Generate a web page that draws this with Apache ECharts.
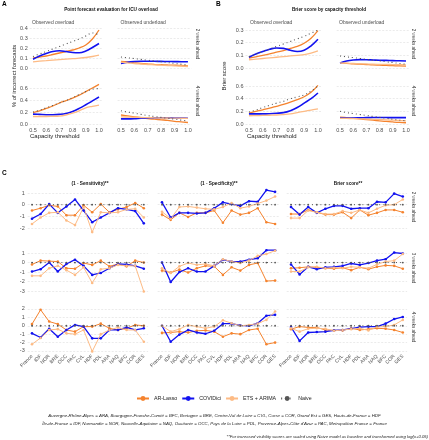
<!DOCTYPE html>
<html><head><meta charset="utf-8">
<script src="https://cdn.jsdelivr.net/npm/echarts@6/dist/echarts.min.js"></script>
<style>html,body{margin:0;padding:0;background:#fff}#c{width:429px;height:440px}</style>
</head><body><div id="c"></div>
<script>
// ---------- DATA ----------
const models = ['AR-Lasso', 'COVIDici', 'ETS + ARIMA', 'Naive'];
const thresholds = [0.5, 0.55, 0.6, 0.65, 0.7, 0.75, 0.8, 0.85, 0.9, 0.95, 1.0];
const thresholdTicks = [0.5, 0.6, 0.7, 0.8, 0.9, 1.0];

// Panel A: % of incorrect forecasts
const aOver2wAR   = [0.10, 0.11, 0.12, 0.135, 0.15, 0.165, 0.18, 0.20, 0.23, 0.29, 0.38];
const aOver2wCOV  = [0.088, 0.12, 0.145, 0.165, 0.172, 0.165, 0.155, 0.152, 0.17, 0.205, 0.245];
const aOver2wETS  = [0.062, 0.068, 0.073, 0.078, 0.083, 0.088, 0.093, 0.098, 0.105, 0.115, 0.128];
const aOver2wNAI  = [0.115, 0.14, 0.165, 0.19, 0.215, 0.24, 0.265, 0.29, 0.32, 0.35, 0.33];
const aUnder2wAR  = [0.065, 0.06, 0.052, 0.045, 0.04, 0.036, 0.033, 0.03, 0.028, 0.025, 0.02];
const aUnder2wCOV = [0.045, 0.058, 0.065, 0.068, 0.068, 0.067, 0.066, 0.065, 0.064, 0.063, 0.062];
const aUnder2wETS = [0.058, 0.052, 0.045, 0.04, 0.035, 0.032, 0.028, 0.025, 0.022, 0.02, 0.015];
const aUnder2wNAI = [0.11, 0.102, 0.094, 0.086, 0.078, 0.07, 0.062, 0.054, 0.046, 0.038, 0.03];
const aOver4wAR   = [0.19, 0.22, 0.26, 0.30, 0.35, 0.39, 0.43, 0.48, 0.54, 0.60, 0.66];
const aOver4wCOV  = [0.165, 0.16, 0.155, 0.155, 0.16, 0.175, 0.21, 0.26, 0.32, 0.385, 0.45];
const aOver4wETS  = [0.125, 0.125, 0.125, 0.128, 0.132, 0.15, 0.18, 0.22, 0.27, 0.295, 0.315];
const aOver4wNAI  = [0.20, 0.23, 0.27, 0.31, 0.35, 0.39, 0.44, 0.49, 0.54, 0.58, 0.59];
const aUnder4wAR  = [0.15, 0.135, 0.12, 0.105, 0.09, 0.08, 0.07, 0.06, 0.045, 0.035, 0.025];
const aUnder4wCOV = [0.085, 0.085, 0.088, 0.095, 0.10, 0.103, 0.105, 0.103, 0.10, 0.098, 0.095];
const aUnder4wETS = [0.12, 0.115, 0.11, 0.108, 0.105, 0.103, 0.10, 0.10, 0.098, 0.096, 0.095];
const aUnder4wNAI = [0.22, 0.20, 0.18, 0.16, 0.14, 0.125, 0.11, 0.095, 0.08, 0.065, 0.05];

// Panel B: Brier score
const bOver2wAR   = [0.078, 0.088, 0.10, 0.112, 0.125, 0.138, 0.155, 0.17, 0.195, 0.235, 0.295];
const bOver2wCOV  = [0.085, 0.11, 0.13, 0.148, 0.158, 0.155, 0.14, 0.13, 0.14, 0.175, 0.227];
const bOver2wETS  = [0.065, 0.07, 0.075, 0.08, 0.085, 0.09, 0.095, 0.10, 0.105, 0.118, 0.135];
const bOver2wNAI  = [0.09, 0.11, 0.13, 0.15, 0.17, 0.19, 0.21, 0.23, 0.25, 0.275, 0.30];
const bUnder2wAR  = [0.04, 0.037, 0.033, 0.03, 0.027, 0.024, 0.022, 0.02, 0.018, 0.016, 0.015];
const bUnder2wCOV = [0.04, 0.055, 0.063, 0.066, 0.065, 0.063, 0.061, 0.06, 0.058, 0.057, 0.055];
const bUnder2wETS = [0.04, 0.038, 0.036, 0.034, 0.032, 0.03, 0.029, 0.028, 0.027, 0.026, 0.025];
const bUnder2wNAI = [0.095, 0.088, 0.082, 0.075, 0.069, 0.062, 0.056, 0.049, 0.043, 0.036, 0.03];
const bOver4wAR   = [0.17, 0.20, 0.225, 0.25, 0.28, 0.31, 0.345, 0.385, 0.43, 0.50, 0.61];
const bOver4wCOV  = [0.16, 0.16, 0.16, 0.163, 0.17, 0.18, 0.21, 0.26, 0.33, 0.40, 0.49];
const bOver4wETS  = [0.13, 0.132, 0.135, 0.138, 0.142, 0.15, 0.16, 0.18, 0.20, 0.22, 0.24];
const bOver4wNAI  = [0.19, 0.22, 0.26, 0.295, 0.33, 0.36, 0.40, 0.43, 0.46, 0.52, 0.60];
const bUnder4wAR  = [0.11, 0.10, 0.09, 0.08, 0.07, 0.06, 0.05, 0.04, 0.032, 0.025, 0.02];
const bUnder4wCOV = [0.095, 0.095, 0.095, 0.097, 0.10, 0.102, 0.103, 0.102, 0.10, 0.10, 0.10];
const bUnder4wETS = [0.09, 0.088, 0.085, 0.082, 0.078, 0.074, 0.07, 0.065, 0.06, 0.055, 0.05];
const bUnder4wNAI = [0.20, 0.18, 0.165, 0.15, 0.135, 0.12, 0.105, 0.09, 0.075, 0.062, 0.05];

// Panel C: scaled scores by region
const regions = ['France', 'IDF', 'NOR', 'BRE', 'OCC', 'PAC', 'CVL', 'HDF', 'PDL', 'ARA', 'NAQ', 'BFC', 'COR', 'GES'];
const naiveScaled = [0, 0, 0, 0, 0, 0, 0, 0, 0, 0, 0, 0, 0, 0];
const sens2AR  = [-0.5, -0.3, -0.05, -0.15, -0.9, -0.9, -0.05, -0.65, 0.05, -0.65, -0.4, -0.2, 0.15, -0.3];
const sens2COV = [-1.2, -0.8, 0.05, -0.7, -0.15, 0.45, -0.5, -1.5, -1.1, -0.7, -0.3, -0.4, -0.55, -1.6];
const sens2ETS = [-1.65, -1.1, -0.7, -0.65, -1.35, -1.75, -0.2, -2.35, -0.65, -0.7, -0.65, -0.4, -0.35, -1.1];
const spec2AR  = [-0.85, -1.3, -0.7, -1.05, -0.7, -0.7, -0.5, -1.55, -0.5, -0.85, -0.7, -0.3, -1.5, -1.65];
const spec2COV = [0.2, -1.1, -0.7, -0.7, -0.75, -0.7, -0.3, 0.2, 0.05, -0.1, 0.3, 0.25, 1.25, 1.1];
const spec2ETS = [-0.6, -1.2, -0.2, -0.15, -0.25, -0.35, -0.4, -0.2, 0.15, -0.3, -0.15, 0.1, 0.35, 0.7];
const brier2AR  = [-0.8, -0.8, -0.45, -0.65, -0.85, -0.85, -0.65, -1.15, -0.45, -0.9, -0.7, -0.45, -0.45, -0.65];
const brier2COV = [-0.2, -0.85, -0.2, -0.7, -0.35, -0.1, -0.1, -0.35, -0.3, -0.3, 0.25, 0.2, 0.95, 0.7];
const brier2ETS = [-1.15, -1.15, -0.5, -0.65, -0.8, -0.8, -0.55, -0.7, -0.45, -0.7, -0.35, -0.05, 0, 0.45];
const sens3AR  = [-0.2, 0.2, 0.15, 0.1, -0.6, -0.65, -0.05, -0.25, 0.2, -0.4, -0.15, -0.4, 0.2, 0];
const sens3COV = [-0.95, -0.7, 0, -0.95, -0.15, 0.3, -0.35, -1.3, -1.1, -0.6, -0.15, -0.2, -0.35, -0.65];
const sens3ETS = [-1.4, -1.4, -0.6, -0.35, -0.8, -1.3, -0.5, -2.15, -0.7, -0.6, -0.25, -0.35, -0.35, -3.05];
const spec3AR  = [-0.85, -1.05, -0.75, -1.05, -0.6, -0.35, -0.4, -1.3, -0.5, -0.85, -0.25, -0.05, -1.95, -1.9];
const spec3COV = [0, -2.05, -1.0, -0.6, -0.95, -0.95, -0.35, 0.3, 0.1, 0.1, 0.3, 0.45, 1.3, 1.3];
const spec3ETS = [-0.6, -1.1, -0.4, -0.05, -0.25, -0.15, -0.35, 0.35, 0.1, -0.05, 0.2, 0.7, 0.9, 1.25];
const brier3AR  = [-0.6, -0.55, -0.45, -0.5, -0.6, -0.65, -0.55, -0.8, -0.5, -0.7, -0.45, -0.3, -0.35, -0.65];
const brier3COV = [-0.2, -1.25, -0.45, -0.7, -0.5, -0.45, -0.35, -0.1, -0.25, -0.05, 0.2, 0.35, 1.05, 0.95];
const brier3ETS = [-0.95, -0.95, -0.5, -0.45, -0.6, -0.55, -0.6, -0.45, -0.5, -0.6, -0.2, 0.1, 0.2, 0.9];
const sens4AR  = [0.2, 1.9, 0.5, 0.2, -0.5, -0.7, -0.1, -0.1, 0.25, -0.3, -0.5, -0.3, 0.1, 0];
const sens4COV = [-0.9, -1.4, -0.35, -1.3, -0.5, 0.1, -0.1, -1.5, -1.5, -0.5, -0.5, -0.2, -0.5, -0.3];
const sens4ETS = [-2.2, -1.45, -0.5, -0.4, -0.9, -1.0, -0.5, -3.05, -1.0, -0.5, -0.2, -0.5, -0.5, -1.9];
const spec4AR  = [-0.85, -0.8, -0.7, -0.8, -0.6, -0.55, -0.7, -1.3, -0.9, -1.0, -0.5, -0.35, -2.2, -2.0];
const spec4COV = [0, -1.9, -1.05, -0.5, -0.8, -0.95, -0.6, 0.25, 0.25, 0.05, 0, 0.3, 1.2, 1.3];
const spec4ETS = [0, -0.7, -0.4, 0.1, -0.1, -0.3, -0.1, 0.65, 0.3, 0, 0.1, 0.25, 0.7, 1.7];
const brier4AR  = [-0.4, -0.1, -0.2, -0.2, -0.5, -0.55, -0.55, -0.3, -0.5, -0.4, -0.3, -0.35, -0.5, -0.8];
const brier4COV = [-0.15, -1.8, -0.8, -0.75, -0.7, -0.55, -0.5, -0.35, -0.15, -0.1, -0.1, 0.25, 0.8, 1.05];
const brier4ETS = [-0.3, -0.7, -0.35, -0.3, -0.35, -0.6, -0.5, -0.4, -0.3, -0.55, -0.15, -0.1, 0.1, 0.7];

const cRowTicks = [[-2, -1, 0, 1], [-3, -2, -1, 0, 1], [-3, -2, -1, 0, 1, 2]];

// ---------- STYLE / LAYOUT ----------
const FF = '"Liberation Sans", Arial, Helvetica, sans-serif';
const COL = {'AR-Lasso': '#F5832E', 'COVIDici': '#1212F0', 'ETS + ARIMA': '#FDBB85', 'Naive': '#555555'};
const gridLine = {show: true, lineStyle: {color: '#dedede', width: 0.6, type: [2, 1.5]}};
const tickText = {fontSize: 5.5, color: '#4d4d4d', fontFamily: FF};

const grids = [], xAxes = [], yAxes = [], series = [];
function addGrid(left, top, width, height) {
  grids.push({left, top, width, height, containLabel: false});
  return grids.length - 1;
}

// Panel C
const cLeft = [27.7, 157.65, 286.7], cWidth = [120.4, 121.8, 120.4];
const cTop = [188, 248.1, 307.7], cHeight = [46.2, 45.5, 45.8];
const cMin = [-2.53, -3.27, -3.3], cMax = [1.43, 1.52, 2.15];
const cData = [
  [[sens2AR, sens2COV, sens2ETS], [spec2AR, spec2COV, spec2ETS], [brier2AR, brier2COV, brier2ETS]],
  [[sens3AR, sens3COV, sens3ETS], [spec3AR, spec3COV, spec3ETS], [brier3AR, brier3COV, brier3ETS]],
  [[sens4AR, sens4COV, sens4ETS], [spec4AR, spec4COV, spec4ETS], [brier4AR, brier4COV, brier4ETS]]
];
for (let r = 0; r < 3; r++) {
  for (let c = 0; c < 3; c++) {
    const gi = addGrid(cLeft[c], cTop[r], cWidth[c], cHeight[r]);
    xAxes.push({type: 'category', gridIndex: gi, data: regions, boundaryGap: true,
      axisLine: {show: false}, axisTick: {show: false}, splitLine: {show: false},
      axisLabel: Object.assign({show: r === 2, rotate: 45, interval: 0, margin: 2}, tickText, {fontSize: 5})});
    yAxes.push({type: 'value', gridIndex: gi, min: cMin[r], max: cMax[r],
      axisLine: {show: false}, axisTick: {show: false, customValues: cRowTicks[r]}, splitLine: gridLine,
      axisLabel: Object.assign({show: c === 0, customValues: cRowTicks[r], margin: 3}, tickText)});
    const arrs = cData[r][c].concat([naiveScaled]);
    arrs.forEach((arr, k) => {
      const name = models[k];
      const naive = name === 'Naive';
      series.push({type: 'line', name, xAxisIndex: gi, yAxisIndex: gi, data: arr,
        symbol: 'circle', symbolSize: naive ? 1.8 : 2.6, showSymbol: true,
        itemStyle: {color: COL[name]},
        lineStyle: {color: COL[name], width: name === 'COVIDici' ? 1.3 : 1, type: naive ? [1, 3.2] : 'solid'},
        clip: false, silent: true, animation: false});
    });
  }
}

// Panels A and B
function abPanel(left, width, top, height, ymin, ymax, yticks, showX, showY, arrs) {
  const gi = addGrid(left, top, width, height);
  xAxes.push({type: 'value', gridIndex: gi, min: 0.475, max: 1.025,
    axisLine: {show: false}, axisTick: {show: false, customValues: thresholdTicks}, splitLine: {show: false},
    axisLabel: Object.assign({show: showX, customValues: thresholdTicks, formatter: v => v.toFixed(1), margin: 2}, tickText)});
  yAxes.push({type: 'value', gridIndex: gi, min: ymin, max: ymax,
    axisLine: {show: false}, axisTick: {show: false, customValues: yticks}, splitLine: gridLine,
    axisLabel: Object.assign({show: showY, customValues: yticks, formatter: v => v.toFixed(1), margin: 2}, tickText)});
  arrs.forEach((arr, k) => {
    const name = models[k];
    const naive = name === 'Naive';
    series.push({type: 'line', name, xAxisIndex: gi, yAxisIndex: gi,
      data: thresholds.map((t, i) => [t, arr[i]]),
      smooth: 0.4, showSymbol: false, symbol: 'none',
      lineStyle: {color: COL[name], width: naive ? 1.1 : (name === 'COVIDici' ? 1.6 : 1.3), type: naive ? [1, 3] : 'solid'},
      clip: false, silent: true, animation: false});
  });
}
const t1 = [0, 0.1, 0.2, 0.3, 0.4], t2 = [0, 0.2, 0.4, 0.6], t3 = [0, 0.1, 0.2, 0.3];
abPanel(29.7, 72.6, 26, 44, -0.02, 0.42, t1, false, true, [aOver2wAR, aOver2wCOV, aOver2wETS, aOver2wNAI]);
abPanel(117.6, 73.7, 26, 44, -0.02, 0.42, t1, false, false, [aUnder2wAR, aUnder2wCOV, aUnder2wETS, aUnder2wNAI]);
abPanel(29.7, 72.6, 83.2, 42.6, -0.03, 0.68, t2, true, true, [aOver4wAR, aOver4wCOV, aOver4wETS, aOver4wNAI]);
abPanel(117.6, 73.7, 83.2, 42.6, -0.03, 0.68, t2, true, false, [aUnder4wAR, aUnder4wCOV, aUnder4wETS, aUnder4wNAI]);
abPanel(245.5, 75.9, 28.1, 41.8, -0.015, 0.315, t3, false, true, [bOver2wAR, bOver2wCOV, bOver2wETS, bOver2wNAI]);
abPanel(336.7, 72.6, 28.1, 41.8, -0.015, 0.315, t3, false, false, [bUnder2wAR, bUnder2wCOV, bUnder2wETS, bUnder2wNAI]);
abPanel(245.5, 75.9, 83.5, 42.4, -0.03, 0.64, t2, true, true, [bOver4wAR, bOver4wCOV, bOver4wETS, bOver4wNAI]);
abPanel(336.7, 72.6, 83.5, 42.4, -0.03, 0.64, t2, true, false, [bUnder4wAR, bUnder4wCOV, bUnder4wETS, bUnder4wNAI]);

// ---------- TEXT ----------
function txt(x, y, text, o) {
  o = o || {};
  return {type: 'text', x, y, rotation: o.rot || 0, silent: true,
    style: {text, fontSize: o.size || 5, fontFamily: FF, fontWeight: o.bold ? 'bold' : 'normal',
      fontStyle: o.italic ? 'italic' : 'normal', fill: o.color || '#222',
      align: o.align || 'left', verticalAlign: 'middle'}};
}
const G = [];
G.push(txt(2, 4, 'A', {bold: true, size: 6.5, color: '#000'}));
G.push(txt(216, 4, 'B', {bold: true, size: 6.5, color: '#000'}));
G.push(txt(2, 173, 'C', {bold: true, size: 6.5, color: '#000'}));
G.push(txt(111, 10, 'Point forecast evaluation for ICU overload', {bold: true, size: 4.7, align: 'center', color: '#111'}));
G.push(txt(329, 10, 'Brier score by capacity threshold', {bold: true, size: 4.7, align: 'center', color: '#111'}));
G.push(txt(32, 22.7, 'Observed overload', {size: 5, color: '#4d4d4d'}));
G.push(txt(120.5, 22.7, 'Observed underload', {size: 5, color: '#4d4d4d'}));
G.push(txt(250, 22.7, 'Observed overload', {size: 5, color: '#4d4d4d'}));
G.push(txt(339, 22.7, 'Observed underload', {size: 5, color: '#4d4d4d'}));
G.push(txt(14, 76, '% of incorrect forecasts', {size: 6, rot: Math.PI / 2, align: 'center', color: '#222'}));
G.push(txt(224.5, 76, 'Brier score', {size: 6, rot: Math.PI / 2, align: 'center', color: '#222'}));
G.push(txt(30, 136, 'Capacity threshold', {size: 6, color: '#222'}));
G.push(txt(247, 136, 'Capacity threshold', {size: 6, color: '#222'}));
G.push(txt(197, 44, '2 weeks ahead', {size: 4.5, rot: -Math.PI / 2, align: 'center', color: '#333'}));
G.push(txt(197, 101, '4 weeks ahead', {size: 4.5, rot: -Math.PI / 2, align: 'center', color: '#333'}));
G.push(txt(413, 44, '2 weeks ahead', {size: 4.5, rot: -Math.PI / 2, align: 'center', color: '#333'}));
G.push(txt(413, 101, '4 weeks ahead', {size: 4.5, rot: -Math.PI / 2, align: 'center', color: '#333'}));
G.push(txt(90, 183.5, '(1 - Sensitivity)**', {bold: true, size: 4.7, align: 'center', color: '#111'}));
G.push(txt(219, 183.5, '(1 - Specificity)**', {bold: true, size: 4.7, align: 'center', color: '#111'}));
G.push(txt(348, 183.5, 'Brier score**', {bold: true, size: 4.7, align: 'center', color: '#111'}));
G.push(txt(413, 207, '2 weeks ahead', {size: 4.5, rot: -Math.PI / 2, align: 'center', color: '#333'}));
G.push(txt(413, 268, '3 weeks ahead', {size: 4.5, rot: -Math.PI / 2, align: 'center', color: '#333'}));
G.push(txt(413, 327, '4 weeks ahead', {size: 4.5, rot: -Math.PI / 2, align: 'center', color: '#333'}));
G.push(txt(214.5, 416, 'Auvergne-Rhône-Alpes = ARA, Bourgogne-Franche-Comté = BFC, Bretagne = BRE, Centre-Val de Loire = CVL, Corse = COR, Grand Est = GES, Hauts-de-France = HDF', {italic: true, size: 4.4, align: 'center', color: '#222'}));
G.push(txt(214.5, 423.5, 'Île-de-France = IDF, Normandie = NOR, Nouvelle-Aquitaine = NAQ, Occitanie = OCC, Pays de la Loire = PDL, Provence-Alpes-Côte d\'Azur = PAC, Metropolitan France = France', {italic: true, size: 4.4, align: 'center', color: '#222'}));
G.push(txt(428, 437, '**For increased visibility scores are scaled using Naive model as baseline and transformed using log(x+0.05)', {italic: true, size: 4.2, align: 'right', color: '#222'}));

const chart = echarts.init(document.getElementById('c'), null, {renderer: 'canvas'});
chart.setOption({
  backgroundColor: '#ffffff',
  animation: false,
  grid: grids, xAxis: xAxes, yAxis: yAxes, series: series,
  legend: {data: models, left: 131, top: 391, itemWidth: 12, itemHeight: 6, itemGap: 4,
    textStyle: {fontSize: 5.3, color: '#222', fontFamily: FF}, selectedMode: false},
  graphic: G
});
</script></body></html>
